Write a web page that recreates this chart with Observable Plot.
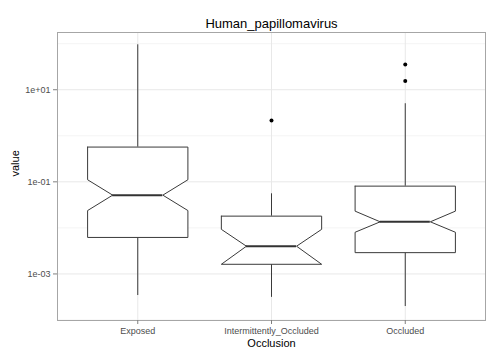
<!DOCTYPE html>
<html>
<head>
<meta charset="utf-8">
<script src="https://cdn.jsdelivr.net/npm/d3@7"></script>
<script src="https://cdn.jsdelivr.net/npm/@observablehq/plot@0.6"></script>
<style>
  html, body { margin: 0; padding: 0; background: white; }
</style>
</head>
<body>
<div id="chart"></div>
<script>
// ---- data ----
const title = "Human_papillomavirus";
const categories = ["Exposed", "Intermittently_Occluded", "Occluded"];
const whiskerLow  = [0.00034, 0.00031, 0.000196];
const q1          = [0.0062, 0.00162, 0.0029];
const notchLow    = [0.0238, 0.00162, 0.00804];
const median      = [0.0514, 0.0040, 0.01355];
const notchHigh   = [0.111, 0.0093, 0.0231];
const q3          = [0.569, 0.018, 0.0807];
const whiskerHigh = [94.6, 0.055, 4.97];
const outlierCategory = ["Intermittently_Occluded", "Occluded", "Occluded"];
const outlierValue    = [2.16, 15.4, 35.4];
const majorTicks = [1e-3, 1e-1, 1e1];
const minorTicks = [1e-4, 1e-2, 1e0, 1e2];
const xLabel = "Occlusion";
const yLabel = "value";

// ---- derived tables ----
const boxWidth = 0.75, half = boxWidth / 2, indent = boxWidth / 4;
const stats = categories.map((c, i) => ({
  cat: c, pos: i + 1,
  lo: whiskerLow[i], q1: q1[i], nlo: notchLow[i], med: median[i],
  nhi: notchHigh[i], q3: q3[i], hi: whiskerHigh[i]
}));
const poly = [];
for (const s of stats) {
  const l = s.pos - half, r = s.pos + half;
  const pts = [
    [l, s.q3], [l, s.nhi], [l + indent, s.med], [l, s.nlo], [l, s.q1],
    [r, s.q1], [r, s.nlo], [r - indent, s.med], [r, s.nhi], [r, s.q3], [l, s.q3]
  ];
  for (const [x, y] of pts) poly.push({cat: s.cat, x, y});
}
const outliers = outlierCategory.map((c, i) => ({pos: categories.indexOf(c) + 1, value: outlierValue[i]}));

const fmt = d => {
  const e = Math.round(Math.log10(d));
  return "1e" + (e < 0 ? "-" : "+") + String(Math.abs(e)).padStart(2, "0");
};

const chart = Plot.plot({
  width: 500,
  height: 357,
  marginLeft: 57,
  marginRight: 15,
  marginTop: 32,
  marginBottom: 37,
  style: {fontFamily: "'Liberation Sans', Arial, sans-serif", background: "white", color: "#4d4d4d"},
  x: {type: "linear", domain: [0.4, 3.6]},
  y: {type: "log", domain: [Math.pow(10, -4.011), Math.pow(10, 2.243)]},
  marks: [
    Plot.ruleY(minorTicks, {stroke: "#f4f4f4", strokeWidth: 1}),
    Plot.ruleY(majorTicks, {stroke: "#e8e8e8", strokeWidth: 1}),
    Plot.ruleX([1, 2, 3], {stroke: "#e8e8e8", strokeWidth: 1}),
    Plot.ruleX(stats, {x: "pos", y1: "q3", y2: "hi", stroke: "#3a3a3a", strokeWidth: 1}),
    Plot.ruleX(stats, {x: "pos", y1: "lo", y2: "q1", stroke: "#3a3a3a", strokeWidth: 1}),
    Plot.line(poly, {x: "x", y: "y", z: "cat", fill: "white", stroke: "#3a3a3a", strokeWidth: 1, curve: "linear"}),
    Plot.ruleY(stats, {y: "med", x1: d => d.pos - half + indent, x2: d => d.pos + half - indent, stroke: "#333", strokeWidth: 2}),
    Plot.dot(outliers, {x: "pos", y: "value", r: 2, fill: "black", stroke: "none"}),
    Plot.frame({stroke: "#a6a6a6", strokeWidth: 1}),
    Plot.axisX([1, 2, 3], {tickFormat: d => categories[d - 1], tickSize: 4, tickPadding: 3, fontSize: 9, stroke: "#7f7f7f", fill: "#4d4d4d", label: null}),
    Plot.axisY(majorTicks, {tickFormat: fmt, tickSize: 4, tickPadding: 3, fontSize: 9, stroke: "#7f7f7f", fill: "#4d4d4d", label: null}),
    Plot.text([title], {frameAnchor: "top", lineAnchor: "bottom", dy: -5, fontSize: 13, fill: "black"}),
    Plot.text([xLabel], {frameAnchor: "bottom", lineAnchor: "middle", dy: 23, fontSize: 11, fill: "black"}),
    Plot.text([yLabel], {frameAnchor: "left", rotate: -90, dx: -42, fontSize: 11, fill: "black"})
  ]
});
document.getElementById("chart").appendChild(chart);
</script>
</body>
</html>
